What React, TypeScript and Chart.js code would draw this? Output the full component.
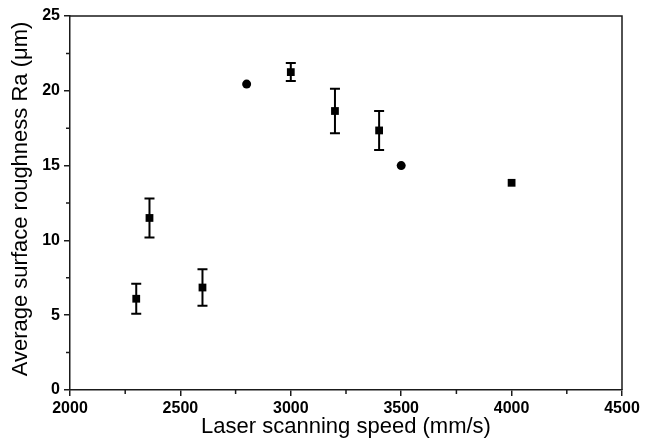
import React, { useEffect, useRef } from "react";
import { Chart, registerables } from "chart.js";

Chart.register(...registerables);

const speeds = [2300, 2360, 2600, 2800, 3000, 3200, 3400, 3500, 4000];
const roughness = [6.1, 11.5, 6.85, 20.45, 21.25, 18.65, 17.35, 15.0, 13.85];
const errors = [1.0, 1.3, 1.22, 0, 0.6, 1.48, 1.3, 0, 0];
const markerStyles = ["rect", "rect", "rect", "circle", "rect", "rect", "rect", "circle", "rect"];

const xTitle = "Laser scanning speed (mm/s)";
const yTitle = "Average surface roughness Ra (\u03bcm)";
const FONT = "Arial, 'Liberation Sans', sans-serif";
const INK = "#1a1a1a";

const decorPlugin = {
  id: "decor",
  beforeDatasetsDraw(chart: any) {
    const ctx = chart.ctx;
    const xs = chart.scales.x;
    const ys = chart.scales.y;
    ctx.save();
    ctx.strokeStyle = "#000";
    ctx.lineWidth = 2;
    speeds.forEach((s, i) => {
      const e = errors[i];
      if (!e) return;
      const px = xs.getPixelForValue(s);
      const top = ys.getPixelForValue(roughness[i] + e);
      const bot = ys.getPixelForValue(roughness[i] - e);
      ctx.beginPath();
      ctx.moveTo(px, top);
      ctx.lineTo(px, bot);
      ctx.moveTo(px - 5, top);
      ctx.lineTo(px + 5, top);
      ctx.moveTo(px - 5, bot);
      ctx.lineTo(px + 5, bot);
      ctx.stroke();
    });
    ctx.restore();
  },
  afterDraw(chart: any) {
    const ctx = chart.ctx;
    const { left, right, top, bottom } = chart.chartArea;
    const xs = chart.scales.x;
    const ys = chart.scales.y;
    ctx.save();
    ctx.strokeStyle = INK;
    ctx.lineWidth = 1.5;
    ctx.beginPath();
    ctx.moveTo(left, top);
    ctx.lineTo(right, top);
    ctx.lineTo(right, bottom);
    ctx.stroke();
    // minor ticks
    ctx.beginPath();
    for (let v = 2250; v < 4500; v += 500) {
      const px = xs.getPixelForValue(v);
      ctx.moveTo(px, bottom);
      ctx.lineTo(px, bottom + 4);
    }
    for (let v = 2.5; v < 25; v += 5) {
      const py = ys.getPixelForValue(v);
      ctx.moveTo(left, py);
      ctx.lineTo(left - 4, py);
    }
    ctx.stroke();
    // y axis title
    ctx.translate(21, 199);
    ctx.rotate(-Math.PI / 2);
    ctx.fillStyle = "#000";
    ctx.font = "22px " + FONT;
    ctx.textAlign = "center";
    ctx.textBaseline = "middle";
    ctx.fillText(yTitle, 0, 0);
    ctx.restore();
  },
};

export default function App() {
  const ref = useRef<HTMLCanvasElement>(null);
  useEffect(() => {
    document.body.style.margin = "0";
    const chart = new Chart(ref.current as HTMLCanvasElement, {
      type: "scatter",
      data: {
        datasets: [
          {
            data: speeds.map((s, i) => ({ x: s, y: roughness[i] })),
            pointStyle: markerStyles as any,
            pointRadius: markerStyles.map((m) => (m === "rect" ? 5.5 : 4.5)),
            backgroundColor: "#000",
            borderColor: "#000",
            borderWidth: 0,
          },
        ],
      },
      options: {
        animation: false,
        responsive: false,
        maintainAspectRatio: false,
        layout: { padding: { top: 16, right: 31, left: 0, bottom: 0 } },
        plugins: { legend: { display: false }, tooltip: { enabled: false } },
        scales: {
          x: {
            type: "linear",
            min: 2000,
            max: 4500,
            afterFit: (s: any) => {
              s.height = 51;
            },
            ticks: {
              stepSize: 500,
              color: "#000",
              padding: 3,
              maxRotation: 0,
              callback: (v: any) => String(v),
              font: { family: FONT, size: 16, weight: "bold" },
            },
            grid: { display: true, drawOnChartArea: false, drawTicks: true, tickLength: 6, color: INK, lineWidth: 1.5 },
            border: { display: true, color: INK, width: 1.5 },
            title: {
              display: true,
              text: xTitle,
              color: "#000",
              padding: { top: 0, bottom: 1 },
              font: { family: FONT, size: 22 },
            },
          },
          y: {
            type: "linear",
            min: 0,
            max: 25,
            afterFit: (s: any) => {
              s.width = 70;
            },
            ticks: {
              stepSize: 5,
              color: "#000",
              padding: 4,
              callback: (v: any) => String(v),
              font: { family: FONT, size: 16, weight: "bold" },
            },
            grid: { display: true, drawOnChartArea: false, drawTicks: true, tickLength: 6, color: INK, lineWidth: 1.5 },
            border: { display: true, color: INK, width: 1.5 },
            title: { display: false },
          },
        },
      },
      plugins: [decorPlugin],
    } as any);
    return () => chart.destroy();
  }, []);
  return (
    <div style={{ position: "absolute", left: 0, top: 0, width: 653, height: 441 }}>
      <canvas ref={ref} width={653} height={441} style={{ width: 653, height: 441, display: "block" }} />
    </div>
  );
}
